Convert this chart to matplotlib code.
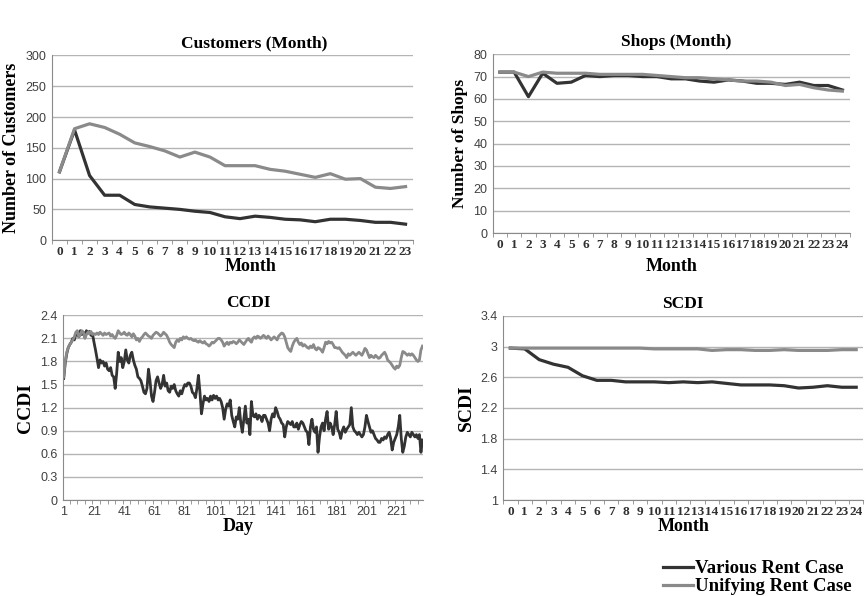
import matplotlib
matplotlib.use("Agg")
import matplotlib.pyplot as plt
from matplotlib.lines import Line2D
from matplotlib.ticker import MultipleLocator, FixedLocator


# ============================================
# Data
# ============================================

months_24 = list(range(24))
months_25 = list(range(25))

customers_various = [111, 179, 105, 73, 73, 58, 54, 52, 50, 47, 45, 38,
                     35, 39, 37, 34, 33, 30, 34, 34, 32, 29, 29, 26]
customers_unifying = [111, 181, 189, 183, 172, 158, 152, 145, 135, 143, 135, 121,
                      121, 121, 115, 112, 107, 102, 108, 99, 100, 86, 84, 87]

shops_various = [72, 72, 61, 71.5, 67, 67.5, 70.5, 70, 70.5, 70.5, 70, 70, 69,
                 69, 68, 67.5, 68.5, 68, 67, 67, 66.5, 67.5, 66, 66, 64]
shops_unifying = [72, 72, 70, 72, 71.5, 71.5, 71.5, 71, 71, 71, 71, 70.5, 70,
                  69.5, 69.5, 69, 68.5, 68, 68, 67.5, 66, 66.5, 65, 64, 63.5]

scdi_various = [2.98, 2.97, 2.83, 2.77, 2.73, 2.62, 2.56, 2.56, 2.54, 2.54, 2.54,
                2.53, 2.54, 2.53, 2.54, 2.52, 2.50, 2.50, 2.50, 2.49, 2.46, 2.47,
                2.49, 2.47, 2.47]
scdi_unifying = [2.98, 2.98, 2.98, 2.98, 2.98, 2.98, 2.98, 2.98, 2.98, 2.98, 2.97,
                 2.97, 2.97, 2.97, 2.95, 2.96, 2.96, 2.95, 2.95, 2.96, 2.95, 2.95,
                 2.95, 2.96, 2.96]

ccdi_various = [
    1.58, 1.78, 1.90, 1.98, 2.02, 2.05, 2.10, 2.08, 2.15, 2.18,
    2.12, 2.20, 2.15, 2.18, 2.12, 2.20, 2.17, 2.19, 2.14, 2.16,
    2.05, 1.95, 1.84, 1.72, 1.82, 1.78, 1.80, 1.74, 1.78, 1.70,
    1.68, 1.72, 1.62, 1.60, 1.45, 1.65, 1.92, 1.80, 1.85, 1.72,
    1.80, 1.95, 1.82, 1.78, 1.88, 1.92, 1.82, 1.75, 1.70, 1.60,
    1.58, 1.55, 1.48, 1.40, 1.38, 1.45, 1.70, 1.55, 1.35, 1.28,
    1.40, 1.55, 1.60, 1.52, 1.45, 1.50, 1.62, 1.48, 1.52, 1.42,
    1.40, 1.48, 1.45, 1.50, 1.42, 1.38, 1.35, 1.42, 1.38, 1.45,
    1.50, 1.48, 1.52, 1.52, 1.48, 1.40, 1.38, 1.33, 1.45, 1.62,
    1.40, 1.12, 1.25, 1.35, 1.30, 1.32, 1.28, 1.35, 1.30, 1.36,
    1.32, 1.35, 1.30, 1.32, 1.28, 1.20, 1.05, 1.18, 1.25, 1.22,
    1.30, 1.10, 1.02, 0.95, 1.08, 1.05, 1.20, 1.00, 0.88, 1.05,
    1.22, 1.00, 1.05, 0.85, 1.28, 1.10, 1.08, 1.12, 1.05, 1.10,
    1.08, 1.02, 1.10, 1.10, 1.05, 1.00, 0.90, 1.05, 1.12, 1.08,
    1.20, 1.15, 1.08, 1.05, 1.00, 0.98, 0.82, 0.95, 1.02, 1.00,
    0.98, 1.02, 0.95, 0.95, 1.00, 0.92, 0.98, 1.02, 1.00, 0.95,
    0.90, 0.88, 0.72, 0.95, 1.05, 0.92, 0.88, 0.95, 0.62, 0.82,
    0.95, 1.00, 0.90, 1.05, 1.15, 0.92, 1.00, 0.95, 0.85, 0.98,
    1.15, 0.92, 0.88, 0.80, 0.90, 0.95, 0.88, 0.92, 0.95, 0.98,
    1.20, 0.95, 0.90, 0.88, 0.85, 0.88, 0.85, 0.82, 0.85, 0.95,
    1.10, 1.02, 0.95, 0.88, 0.90, 0.85, 0.80, 0.78, 0.75, 0.75,
    0.80, 0.78, 0.82, 0.80, 0.85, 0.88, 0.80, 0.65, 0.75, 0.80,
    0.85, 0.95, 1.10, 0.80, 0.62, 0.70, 0.82, 0.88, 0.85, 0.82,
    0.88, 0.85, 0.82, 0.85, 0.80, 0.85, 0.62, 0.78,
]
ccdi_unifying = [
    1.60, 1.80, 1.92, 1.98, 2.02, 2.05, 2.08, 2.12, 2.18, 2.20,
    2.12, 2.15, 2.20, 2.18, 2.10, 2.15, 2.18, 2.16, 2.19, 2.15,
    2.16, 2.15, 2.17, 2.15, 2.18, 2.16, 2.14, 2.17, 2.15, 2.16,
    2.17, 2.13, 2.15, 2.12, 2.10, 2.14, 2.20, 2.17, 2.15, 2.16,
    2.18, 2.15, 2.14, 2.17, 2.15, 2.12, 2.16, 2.13, 2.08, 2.10,
    2.06, 2.10, 2.12, 2.15, 2.17, 2.15, 2.13, 2.12, 2.10, 2.14,
    2.16, 2.18, 2.17, 2.15, 2.13, 2.15, 2.18, 2.16, 2.14, 2.10,
    2.05, 2.02, 2.00, 1.98, 2.05, 2.08, 2.06, 2.10, 2.08, 2.12,
    2.10, 2.12, 2.10, 2.09, 2.10, 2.08, 2.07, 2.08, 2.06, 2.05,
    2.07, 2.05, 2.04, 2.06, 2.03, 2.02, 2.00, 2.02, 2.05, 2.04,
    2.06, 2.08, 2.10, 2.10, 2.08, 2.05, 2.00, 2.03, 2.05, 2.02,
    2.05, 2.04, 2.06, 2.05, 2.03, 2.05, 2.08, 2.06, 2.04, 2.02,
    2.05, 2.08, 2.10, 2.07, 2.05, 2.10, 2.12, 2.10, 2.13, 2.12,
    2.10, 2.12, 2.14, 2.12, 2.10, 2.13, 2.11, 2.08, 2.10, 2.12,
    2.10, 2.08, 2.13, 2.15, 2.17, 2.16, 2.12, 2.05, 1.98, 1.95,
    1.93, 2.00, 2.05, 2.08, 2.10, 2.05, 2.02, 2.04, 2.00, 2.02,
    2.00, 1.98, 1.97, 2.00, 1.98, 2.02, 1.97, 1.95, 1.98, 1.97,
    1.95, 1.92, 1.98, 2.05, 2.03, 2.06, 2.04, 2.05, 2.02, 1.98,
    1.98, 1.97, 1.98, 1.95, 1.92, 1.90, 1.88, 1.85, 1.90, 1.88,
    1.90, 1.92, 1.90, 1.88, 1.90, 1.92, 1.90, 1.88, 1.92, 1.97,
    1.95, 1.90, 1.85, 1.88, 1.86, 1.85, 1.88, 1.86, 1.84, 1.85,
    1.88, 1.90, 1.92, 1.88, 1.82, 1.80, 1.78, 1.75, 1.72, 1.70,
    1.74, 1.72, 1.75, 1.85, 1.93, 1.92, 1.90, 1.88, 1.90, 1.88,
    1.90, 1.88, 1.85, 1.82, 1.80, 1.82, 1.95, 2.00,
]
days = list(range(1, len(ccdi_various) + 1))
day_labels = list(range(1, 222, 20))


# ============================================
# Styling helpers
# ============================================

DARK = "#333333"
LIGHT = "#8a8a8a"
GRID = "#b4b4b4"
SERIF = "Liberation Serif"
SANS = "Liberation Sans"


def style_axes(ax, ymin, ymax, ystep, n_cat):
    ax.set_xlim(-0.5, n_cat - 0.5)
    ax.set_ylim(ymin, ymax)
    ax.yaxis.set_major_locator(MultipleLocator(ystep))
    ax.grid(axis="y", color=GRID, linewidth=1)
    ax.set_axisbelow(True)
    for side in ["top", "right"]:
        ax.spines[side].set_visible(False)
    for side in ["left", "bottom"]:
        ax.spines[side].set_color(LIGHT)
    ax.tick_params(axis="y", length=0, labelsize=9, labelcolor="#404040", pad=4)
    ax.tick_params(axis="x", which="major", length=0, pad=4)
    ax.tick_params(axis="x", which="minor", length=3, color=LIGHT, direction="out")
    for lab in ax.get_yticklabels():
        lab.set_fontfamily(SANS)


def month_ticks(ax, n_cat):
    ax.set_xticks(range(n_cat))
    ax.set_xticklabels([str(m) for m in range(n_cat)], fontfamily=SERIF,
                       fontweight="bold", fontsize=9.5, color="#303030")
    ax.xaxis.set_minor_locator(FixedLocator([i - 0.5 for i in range(n_cat + 1)]))


def titles(ax, title, xlabel, ylabel, ysize=12.5, tx=0.5, lx=0.5):
    ax.set_title(title, fontfamily=SERIF, fontweight="bold", fontsize=12.5, pad=6, x=tx)
    ax.set_xlabel(xlabel, fontfamily=SERIF, fontweight="bold", fontsize=13, labelpad=0, x=lx)
    ax.set_ylabel(ylabel, fontfamily=SERIF, fontweight="bold", fontsize=ysize, labelpad=4)


fig = plt.figure(figsize=(8.66, 5.96), dpi=100)


# ============================================
# Customers (Month)
# ============================================

ax1 = fig.add_axes([0.060, 0.597, 0.417, 0.310])
ax1.plot(months_24, customers_various, color=DARK, linewidth=2.3)
ax1.plot(months_24, customers_unifying, color=LIGHT, linewidth=2.3)
style_axes(ax1, 0, 300, 50, 24)
month_ticks(ax1, 24)
titles(ax1, "Customers (Month)", "Month", "Number of Customers", ysize=13,
       tx=0.56, lx=0.55)


# ============================================
# Shops (Month)
# ============================================

ax2 = fig.add_axes([0.569, 0.609, 0.412, 0.300])
ax2.plot(months_25, shops_various, color=DARK, linewidth=2.3)
ax2.plot(months_25, shops_unifying, color=LIGHT, linewidth=2.3)
style_axes(ax2, 0, 80, 10, 25)
month_ticks(ax2, 25)
titles(ax2, "Shops (Month)", "Month", "Number of Shops", tx=0.515)
ax2.xaxis.labelpad = 5


# ============================================
# CCDI (Day)
# ============================================

ax3 = fig.add_axes([0.0727, 0.161, 0.416, 0.310])
ax3.plot(days, ccdi_various, color=DARK, linewidth=2.0)
ax3.plot(days, ccdi_unifying, color=LIGHT, linewidth=2.0)
style_axes(ax3, 0, 2.4, 0.3, len(days))
ax3.set_xlim(0.5, len(days) + 0.5)
ax3.set_xticks(day_labels)
ax3.set_xticklabels([str(d) for d in day_labels], fontfamily=SANS,
                    fontsize=9, color="#404040")
ax3.xaxis.set_minor_locator(MultipleLocator(5))
ax3.set_yticks([0, 0.3, 0.6, 0.9, 1.2, 1.5, 1.8, 2.1, 2.4])
ax3.set_yticklabels(["0", "0.3", "0.6", "0.9", "1.2", "1.5", "1.8", "2.1", "2.4"],
                    fontfamily=SANS)
titles(ax3, "CCDI", "Day", "CCDI", ysize=14, tx=0.515, lx=0.485)


# ============================================
# SCDI (Month)
# ============================================

ax4 = fig.add_axes([0.581, 0.161, 0.416, 0.309])
ax4.plot(months_25, scdi_various, color=DARK, linewidth=2.3)
ax4.plot(months_25, scdi_unifying, color=LIGHT, linewidth=2.3)
style_axes(ax4, 1, 3.4, 0.4, 25)
month_ticks(ax4, 25)
ax4.set_yticks([1, 1.4, 1.8, 2.2, 2.6, 3, 3.4])
ax4.set_yticklabels(["1", "1.4", "1.8", "2.2", "2.6", "3", "3.4"], fontfamily=SANS)
titles(ax4, "SCDI", "Month", "SCDI", ysize=14)


# ============================================
# Legend
# ============================================

handles = [
    Line2D([], [], color=DARK, linewidth=2.3),
    Line2D([], [], color=LIGHT, linewidth=2.3),
]
fig.legend(
    handles,
    ["Various Rent Case", "Unifying Rent Case"],
    loc="upper left",
    bbox_to_anchor=(0.755, 0.076),
    frameon=False,
    handlelength=1.6,
    handletextpad=0.1,
    labelspacing=0.05,
    borderpad=0,
    prop={"family": SERIF, "weight": "bold", "size": 13.5},
)

fig.savefig("out.png", dpi=100)
